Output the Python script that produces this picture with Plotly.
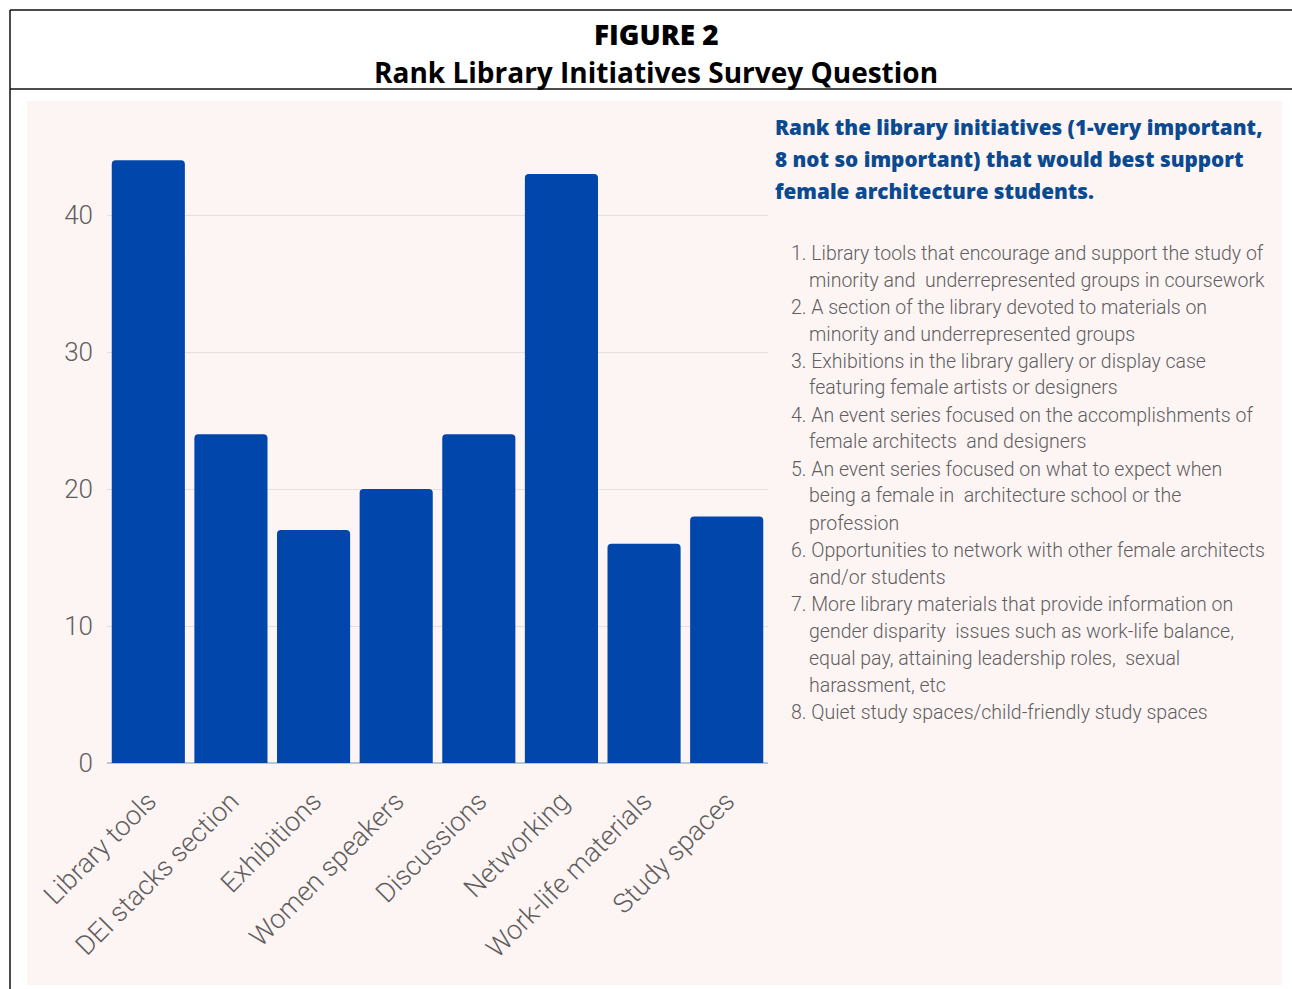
import plotly.graph_objects as go

W, H = 1292, 989

categories = ["Library tools", "DEI stacks section", "Exhibitions", "Women speakers",
              "Discussions", "Networking", "Work-life materials", "Study spaces"]
values = [44, 24, 17, 20, 24, 43, 16, 18]
y_ticks = [0, 10, 20, 30, 40]

fig_title_1 = "FIGURE 2"
fig_title_2 = "Rank Library Initiatives Survey Question"
question_lines = ["Rank the library initiatives (1-very important,",
                  "8 not so important) that would best support",
                  "female architecture students."]
list_lines = [
    ("1. Library tools that encourage and support the study of", False),
    ("minority and  underrepresented groups in coursework", True),
    ("2. A section of the library devoted to materials on", False),
    ("minority and underrepresented groups", True),
    ("3. Exhibitions in the library gallery or display case", False),
    ("featuring female artists or designers", True),
    ("4. An event series focused on the accomplishments of", False),
    ("female architects  and designers", True),
    ("5. An event series focused on what to expect when", False),
    ("being a female in  architecture school or the", True),
    ("profession", True),
    ("6. Opportunities to network with other female architects", False),
    ("and/or students", True),
    ("7. More library materials that provide information on", False),
    ("gender disparity  issues such as work-life balance,", True),
    ("equal pay, attaining leadership roles,  sexual", True),
    ("harassment, etc", True),
    ("8. Quiet study spaces/child-friendly study spaces", False),
]

def px(x):
    return x / W

def py(y):
    return 1 - y / H

BAR = "#0146AB"
PINK = "#FDF4F4"
GRAY = "#5f5f5f"

fig = go.Figure()
fig.add_trace(go.Bar(
    x=categories, y=values,
    marker=dict(color=BAR, line=dict(width=0), cornerradius=4),
    hoverinfo="x+y",
))

y0_pix = 763
y_unit = 13.7
ymax = 45
fig.update_layout(
    width=W, height=H, autosize=False,
    margin=dict(l=0, r=0, t=0, b=0, pad=0),
    paper_bgcolor="white",
    plot_bgcolor="rgba(0,0,0,0)",
    showlegend=False,
    bargap=0.115,
    font=dict(family="Roboto", color=GRAY),
    xaxis=dict(
        domain=[px(107), px(768)],
        automargin=False,
        tickangle=-45,
        tickfont=dict(family="Roboto", size=27, color=GRAY, weight=300),
        showgrid=False, showline=False, ticks="",
        ticklabelstandoff=16,
    ),
    yaxis=dict(
        domain=[py(y0_pix), py(y0_pix - ymax * y_unit)],
        automargin=False,
        range=[0, ymax],
        tickvals=y_ticks,
        tickfont=dict(family="Roboto", size=26, color=GRAY, weight=300),
        showgrid=True, gridcolor="#e6dfdf", gridwidth=1,
        zeroline=True, zerolinecolor="#b9c6d8", zerolinewidth=1.5,
        showline=False, ticks="",
        ticklabelstandoff=13,
    ),
)

shapes = [
    dict(type="rect", xref="paper", yref="paper", x0=px(27), x1=px(1282), y0=py(985), y1=py(101),
         fillcolor=PINK, line=dict(width=0), layer="below"),
    dict(type="line", xref="paper", yref="paper", x0=px(10), x1=px(10), y0=py(989), y1=py(10),
         line=dict(color="#111", width=1.5)),
    dict(type="line", xref="paper", yref="paper", x0=px(10), x1=px(1292), y0=py(10), y1=py(10),
         line=dict(color="#111", width=1.5)),
    dict(type="line", xref="paper", yref="paper", x0=px(10), x1=px(1292), y0=py(89), y1=py(89),
         line=dict(color="#111", width=1.5)),
]
fig.update_layout(shapes=shapes)

ann = []
ann.append(dict(x=px(656), y=py(34), xref="paper", yref="paper", text=fig_title_1,
                showarrow=False, xanchor="center", yanchor="middle",
                font=dict(family="Open Sans", size=28, color="#000", weight=800)))
ann.append(dict(x=px(656), y=py(72), xref="paper", yref="paper", text=fig_title_2,
                showarrow=False, xanchor="center", yanchor="middle",
                font=dict(family="Open Sans", size=28, color="#000", weight=700)))

for i, line in enumerate(question_lines):
    ann.append(dict(x=px(773), y=py(127 + 32 * i), xref="paper", yref="paper", text=line,
                    showarrow=False, xanchor="left", yanchor="middle",
                    font=dict(family="Open Sans", size=20.7, color="#0B4A8F", weight=800)))

for i, (line, indent) in enumerate(list_lines):
    ann.append(dict(x=px(807 if indent else 789), y=py(253 + 27 * i), xref="paper", yref="paper",
                    text=line, showarrow=False, xanchor="left", yanchor="middle",
                    font=dict(family="Roboto", size=19.5, color=GRAY, weight=300)))

fig.update_layout(annotations=ann)
fig.write_html("out.html")
